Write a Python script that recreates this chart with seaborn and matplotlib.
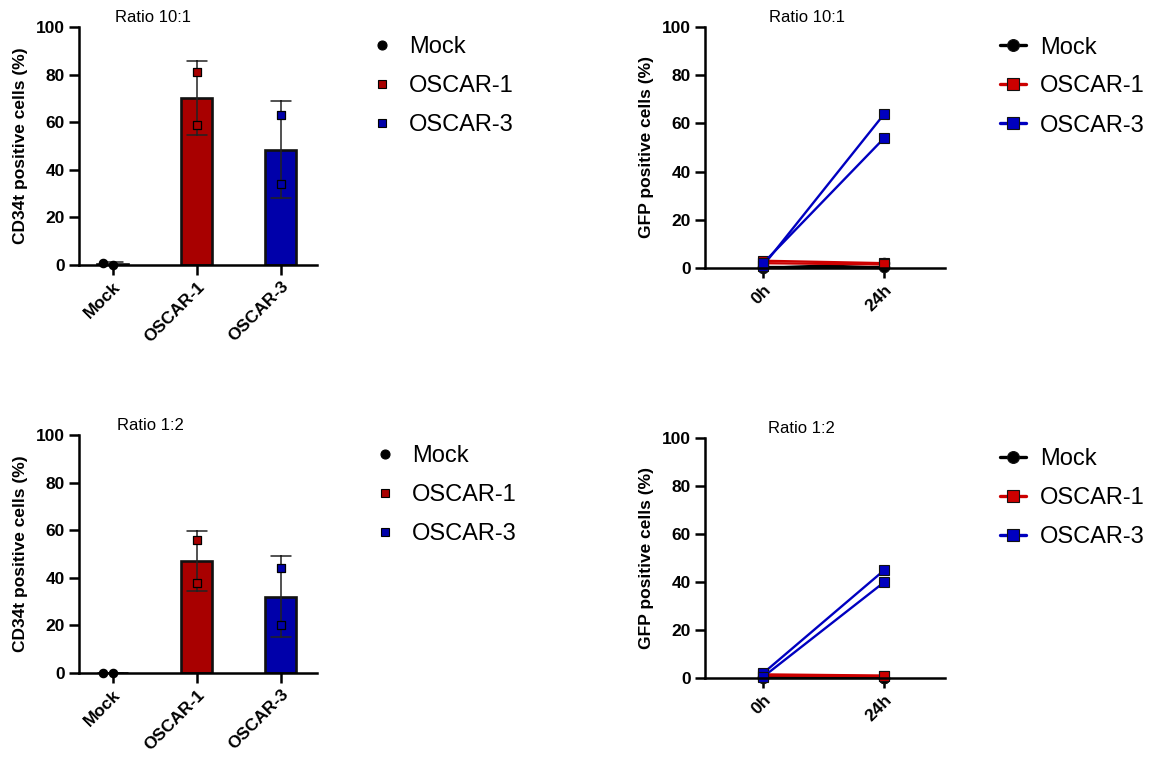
import numpy as np
import pandas as pd
import matplotlib
matplotlib.use('Agg')
import matplotlib.pyplot as plt
from matplotlib.lines import Line2D
import seaborn as sns

# ---------------- data ----------------
groups = ['Mock', 'OSCAR-1', 'OSCAR-3']
times = ['0h', '24h']
yticks = [0, 20, 40, 60, 80, 100]
titles = ['Ratio 10:1', 'Ratio 1:2']

# CD34t positive cells (%), two replicates per group
cd34_10_mock = [0.0, 1.0]
cd34_10_oscar1 = [81.0, 59.0]
cd34_10_oscar3 = [63.0, 34.0]
cd34_12_mock = [0.0, 0.0]
cd34_12_oscar1 = [56.0, 38.0]
cd34_12_oscar3 = [44.0, 20.0]

# GFP positive cells (%), values at [0h, 24h], per replicate
gfp_10_mock_r1 = [0.0, 2.0]
gfp_10_mock_r2 = [0.5, 0.5]
gfp_10_oscar1_r1 = [3.0, 2.0]
gfp_10_oscar1_r2 = [2.0, 1.5]
gfp_10_oscar3_r1 = [1.0, 64.0]
gfp_10_oscar3_r2 = [2.0, 54.0]
gfp_12_mock_r1 = [0.0, 0.0]
gfp_12_mock_r2 = [0.3, 0.2]
gfp_12_oscar1_r1 = [1.5, 1.0]
gfp_12_oscar1_r2 = [1.0, 0.8]
gfp_12_oscar3_r1 = [2.0, 45.0]
gfp_12_oscar3_r2 = [0.5, 40.0]

# ---------------- style ----------------
sns.set_theme(style='white')
plt.rcParams['font.family'] = ['Liberation Sans', 'DejaVu Sans']
plt.rcParams['axes.linewidth'] = 1.8
for k in ['text.color', 'axes.labelcolor', 'xtick.color', 'ytick.color', 'axes.edgecolor']:
    plt.rcParams[k] = 'black'

bar_colors = ['#000000', '#A80000', '#0000AA']
line_colors = ['#000000', '#CC0000', '#0000C0']
markers = ['o', 's', 's']

fig = plt.figure(figsize=(11.58, 7.59), dpi=100)
W, H = 1158, 759


def axes_px(left, top, right, bottom):
    return fig.add_axes([left / W, 1 - bottom / H, (right - left) / W, (bottom - top) / H])


def style_axes(ax, title, title_x, ylabel, xlabels):
    ax.set_ylim(0, 100)
    ax.set_yticks(yticks)
    ax.set_yticklabels([str(v) for v in yticks], fontsize=12.5, fontweight='bold')
    for s in ['top', 'right']:
        ax.spines[s].set_visible(False)
    for s in ['left', 'bottom']:
        ax.spines[s].set_linewidth(1.8)
        ax.spines[s].set_color('black')
    ax.tick_params(axis='both', which='major', length=7, width=1.8, color='black',
                   left=True, bottom=True, direction='out', pad=3)
    ax.set_xticklabels(xlabels, rotation=45, ha='right', rotation_mode='anchor',
                       fontsize=12.5, fontweight='bold')
    ax.set_xlabel('')
    ax.set_ylabel(ylabel, fontsize=12.5, fontweight='bold', labelpad=6)
    ax.text(title_x, 1.038, title, transform=ax.transAxes, ha='center', va='center',
            fontsize=12)
    ax.grid(False)


def bar_panel(ax, mock, o1, o3, title, title_x):
    df = pd.DataFrame({'group': np.repeat(groups, 2),
                       'value': np.concatenate([mock, o1, o3])})
    sns.barplot(data=df, x='group', y='value', hue='group', order=groups,
                hue_order=groups, palette=bar_colors, saturation=1, errorbar='sd',
                capsize=0.24, width=0.37, edgecolor='#111111', linewidth=1.9,
                legend=False, err_kws={'color': '#222222', 'linewidth': 1.1}, ax=ax)
    for g, m, c in zip(groups, markers, bar_colors):
        sub = df[df['group'] == g]
        sns.swarmplot(data=sub, x='group', y='value', order=groups, marker=m,
                      color=c, edgecolor='black', linewidth=0.9, size=6, ax=ax)
    for coll in ax.collections:
        coll.set_clip_on(False)
        coll.set_zorder(4)
    ax.set_xlim(-0.4, 2.43)
    ax.set_xticks(range(len(groups)))
    style_axes(ax, title, title_x, 'CD34t positive cells (%)', groups)


def line_panel(ax, reps, title, title_x):
    rows = []
    for g, rep_list in zip(groups, reps):
        for ri, vals in enumerate(rep_list):
            for t, v in zip(times, vals):
                rows.append({'group': g, 'rep': ri, 'time': t, 'value': v})
    df = pd.DataFrame(rows)
    sns.lineplot(data=df, x='time', y='value', hue='group', style='group',
                 units='rep', estimator=None, hue_order=groups, style_order=groups,
                 palette=line_colors, markers=dict(zip(groups, markers)),
                 dashes=False, linewidth=1.7, markersize=7.5,
                 markeredgecolor='#111111', markeredgewidth=0.8, legend=False, ax=ax)
    for ln in ax.lines:
        ln.set_clip_on(False)
    ax.set_xlim(-0.48, 1.5)
    ax.set_xticks(range(len(times)))
    style_axes(ax, title, title_x, 'GFP positive cells (%)', times)


ax1 = axes_px(79, 27, 317, 265)
bar_panel(ax1, cd34_10_mock, cd34_10_oscar1, cd34_10_oscar3, titles[0], 0.31)

ax2 = axes_px(705, 27, 945, 268)
line_panel(ax2, [[gfp_10_mock_r1, gfp_10_mock_r2],
                 [gfp_10_oscar1_r1, gfp_10_oscar1_r2],
                 [gfp_10_oscar3_r1, gfp_10_oscar3_r2]], titles[0], 0.425)

ax3 = axes_px(79, 435, 317, 673)
bar_panel(ax3, cd34_12_mock, cd34_12_oscar1, cd34_12_oscar3, titles[1], 0.30)

ax4 = axes_px(705, 438, 945, 678)
line_panel(ax4, [[gfp_12_mock_r1, gfp_12_mock_r2],
                 [gfp_12_oscar1_r1, gfp_12_oscar1_r2],
                 [gfp_12_oscar3_r1, gfp_12_oscar3_r2]], titles[1], 0.40)

# ---------------- legends ----------------
bar_handles = [Line2D([], [], linestyle='none', marker=m, markersize=6 if m == 's' else 6.5,
                      markerfacecolor=c, markeredgecolor='black', markeredgewidth=0.8)
               for m, c in zip(markers, bar_colors)]
line_handles = [Line2D([], [], color=c, linewidth=2.4, marker=m, markersize=8.5,
                       markerfacecolor=c, markeredgecolor='#111111', markeredgewidth=0.8)
                for m, c in zip(markers, line_colors)]

leg_kw = dict(frameon=False, fontsize=17, loc='center left', borderpad=0,
              borderaxespad=0, labelspacing=0.72)
fig.legend(bar_handles, groups, bbox_to_anchor=(370 / W, 1 - 86 / H),
           handlelength=1.0, handletextpad=0.65, **leg_kw)
fig.legend(line_handles, groups, bbox_to_anchor=(1000 / W, 1 - 86.5 / H),
           handlelength=1.1, handletextpad=0.6, **leg_kw)
fig.legend(bar_handles, groups, bbox_to_anchor=(373 / W, 1 - 495 / H),
           handlelength=1.0, handletextpad=0.65, **leg_kw)
fig.legend(line_handles, groups, bbox_to_anchor=(1000 / W, 1 - 498 / H),
           handlelength=1.1, handletextpad=0.6, **leg_kw)

fig.savefig('out.png', dpi=100)
